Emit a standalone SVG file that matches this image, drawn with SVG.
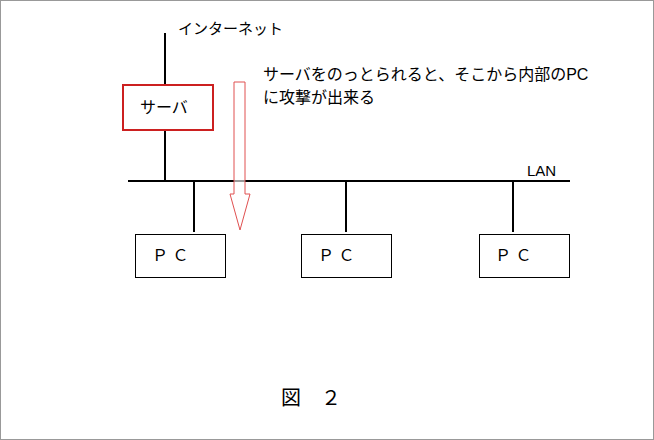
<svg xmlns="http://www.w3.org/2000/svg" width="654" height="440" viewBox="0 0 654 440">
<style>
text{font-family:"Liberation Sans","Noto Sans CJK JP",sans-serif;fill:#000}
.l{stroke:#000;stroke-width:2;fill:none}
.b{fill:#fff;stroke:#000;stroke-width:1}
</style>
<rect x="0.5" y="0.5" width="653" height="439" fill="#fff" stroke="#999"/>
<g id="connectors">
<line class="l" x1="165" y1="33" x2="165" y2="85"/>
<line class="l" x1="165" y1="130" x2="165" y2="181"/>
<line class="l" x1="128" y1="181" x2="570" y2="181"/>
<line class="l" x1="194" y1="181" x2="194" y2="232"/>
<line class="l" x1="346" y1="181" x2="346" y2="232"/>
<line class="l" x1="513" y1="181" x2="513" y2="232"/>
</g>
<g id="arrow"><path d="M234 82H245V194H250L240 230L230 194H234Z" fill="#fff" fill-opacity="0.6" stroke="#e05050" stroke-width="1"/></g>
<text x="178" y="34" font-size="15">インターネット</text>
<text x="263" y="80" font-size="16">サーバをのっとられると、そこから内部のPC</text>
<text x="263" y="103" font-size="16">に攻撃が出来る</text>
<text x="527" y="176" font-size="15">LAN</text>
<g id="server"><rect x="123" y="85" width="90" height="45" fill="#fff" stroke="#cc2020" stroke-width="2"/><text x="140" y="113" font-size="16">サーバ</text></g>
<g id="pc1"><rect class="b" x="135.5" y="234.5" width="90" height="43"/><text x="152" y="261" font-size="16">Ｐ Ｃ</text></g>
<g id="pc2"><rect class="b" x="301.5" y="234.5" width="90" height="43"/><text x="318" y="261" font-size="16">Ｐ Ｃ</text></g>
<g id="pc3"><rect class="b" x="479.5" y="234.5" width="90" height="43"/><text x="495" y="261" font-size="16">Ｐ Ｃ</text></g>
<text x="281" y="405" font-size="20">図　２</text>
</svg>
